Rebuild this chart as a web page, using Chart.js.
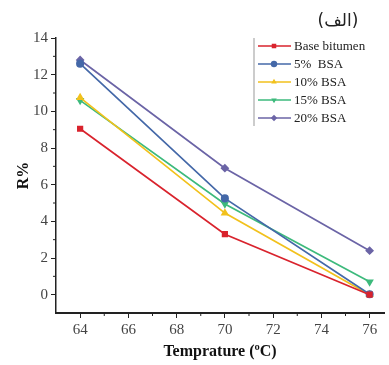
<!DOCTYPE html>
<html>
<head>
<meta charset="utf-8">
<script src="https://cdn.jsdelivr.net/npm/chart.js@4/dist/chart.umd.min.js"></script>
<style>
  html, body { margin: 0; padding: 0; background: #fff; }
  #wrap { position: relative; width: 389px; height: 365px; }
</style>
</head>
<body>
<div id="wrap"><canvas id="myChart" width="389" height="365"></canvas></div>
<script>
// data
var temps = [64, 70, 76];
var baseBitumen = [9.05, 3.3, 0.0];
var bsa5 = [12.6, 5.25, 0.02];
var bsa10 = [10.75, 4.45, 0.0];
var bsa15 = [10.6, 4.95, 0.7];
var bsa20 = [12.8, 6.9, 2.4];

var seriesNames = ['Base bitumen', '5%  BSA', '10% BSA', '15% BSA', '20% BSA'];
var seriesValues = [baseBitumen, bsa5, bsa10, bsa15, bsa20];
var colors = ['#d9232d', '#4468a8', '#f2c11c', '#3dba7c', '#6b64a6'];
var markers = ['rect', 'circle', 'triangle', 'triangle', 'rectRot'];
var rotations = [0, 0, 0, 180, 0];

var serif = '"Liberation Serif", "Times New Roman", serif';

var datasets = seriesNames.map(function(name, i) {
  return {
    label: name,
    data: temps.map(function(t, j) { return { x: t, y: seriesValues[i][j] }; }),
    borderColor: colors[i],
    backgroundColor: colors[i],
    borderWidth: 1.7,
    pointStyle: markers[i],
    rotation: rotations[i],
    pointRadius: 3.2,
    pointHoverRadius: 3.2,
    tension: 0
  };
});

// small ticks between labelled ones + legend box + corner label
var extras = {
  id: 'extras',
  afterDraw: function(chart) {
    var ctx = chart.ctx;
    var xs = chart.scales.x, ys = chart.scales.y;
    ctx.save();
    ctx.strokeStyle = '#222';
    ctx.lineWidth = 1;
    // minor ticks
    for (var v = 65; v <= 75; v += 2) {
      var px = xs.getPixelForValue(v);
      ctx.beginPath(); ctx.moveTo(px, xs.top); ctx.lineTo(px, xs.top + 3); ctx.stroke();
    }
    for (var w = 1; w <= 13; w += 2) {
      var py = ys.getPixelForValue(w);
      ctx.beginPath(); ctx.moveTo(ys.right, py); ctx.lineTo(ys.right - 3, py); ctx.stroke();
    }

    // legend
    var lx = 254, ly = 46, gap = 18;
    ctx.strokeStyle = '#999';
    ctx.lineWidth = 1;
    ctx.beginPath(); ctx.moveTo(lx, 38); ctx.lineTo(lx, 126); ctx.stroke();
    chart.data.datasets.forEach(function(ds, i) {
      var y = ly + i * gap;
      ctx.strokeStyle = ds.borderColor;
      ctx.lineWidth = 1.6;
      ctx.beginPath(); ctx.moveTo(258, y); ctx.lineTo(291, y); ctx.stroke();
      ctx.fillStyle = ds.backgroundColor;
      Chart.helpers.drawPoint(ctx, { pointStyle: ds.pointStyle, rotation: ds.rotation, radius: 3.2, borderWidth: 0 }, 274, y);
      ctx.fillStyle = '#222';
      ctx.font = '13px ' + serif;
      ctx.textBaseline = 'middle';
      ctx.textAlign = 'left';
      ctx.fillText(ds.label, 294, y + 1);
    });

    ctx.fillStyle = '#222';
    ctx.font = '17px "DejaVu Sans", sans-serif';
    ctx.textAlign = 'center';
    ctx.textBaseline = 'middle';
    ctx.fillText('(الف)', 338, 22);
    ctx.restore();
  }
};

var ctx = document.getElementById('myChart').getContext('2d');
var myChart = new Chart(ctx, {
  type: 'line',
  data: { datasets: datasets },
  options: {
    responsive: false,
    animation: false,
    layout: { padding: { top: 38, right: 2, left: 0, bottom: 0 } },
    plugins: {
      legend: { display: false },
      tooltip: { enabled: false }
    },
    scales: {
      x: {
        type: 'linear',
        min: 63,
        max: 76.6,
        afterFit: function(scale) { scale.height = 52; },
        border: { color: '#222', width: 2 },
        grid: {
          drawOnChartArea: false,
          tickLength: 5,
          tickColor: function(c) { return c.tick && c.tick.value % 2 === 0 ? '#222' : 'rgba(0,0,0,0)'; }
        },
        ticks: {
          stepSize: 1,
          includeBounds: false,
          autoSkip: false,
          maxRotation: 0,
          padding: 3,
          color: '#444',
          font: { family: serif, size: 15 },
          callback: function(v) { return v % 2 === 0 ? v : ''; }
        },
        title: {
          display: true,
          text: 'Temprature (ºC)',
          color: '#111',
          font: { family: serif, size: 16, weight: 'bold' },
          padding: { top: 2 }
        }
      },
      y: {
        min: -1,
        max: 14,
        afterFit: function(scale) { scale.width = 56; },
        border: { color: '#222', width: 1.5 },
        grid: {
          drawOnChartArea: false,
          tickLength: 5,
          tickColor: function(c) { return c.tick && c.tick.value % 2 === 0 && c.tick.value >= 0 ? '#222' : 'rgba(0,0,0,0)'; }
        },
        ticks: {
          stepSize: 1,
          includeBounds: false,
          autoSkip: false,
          padding: 3,
          color: '#444',
          font: { family: serif, size: 15 },
          callback: function(v) { return (v >= 0 && v % 2 === 0) ? v : ''; }
        },
        title: {
          display: true,
          text: 'R%',
          color: '#111',
          font: { family: serif, size: 16, weight: 'bold' },
          padding: { top: 14, bottom: 0 }
        }
      }
    }
  },
  plugins: [extras]
});
</script>
</body>
</html>
